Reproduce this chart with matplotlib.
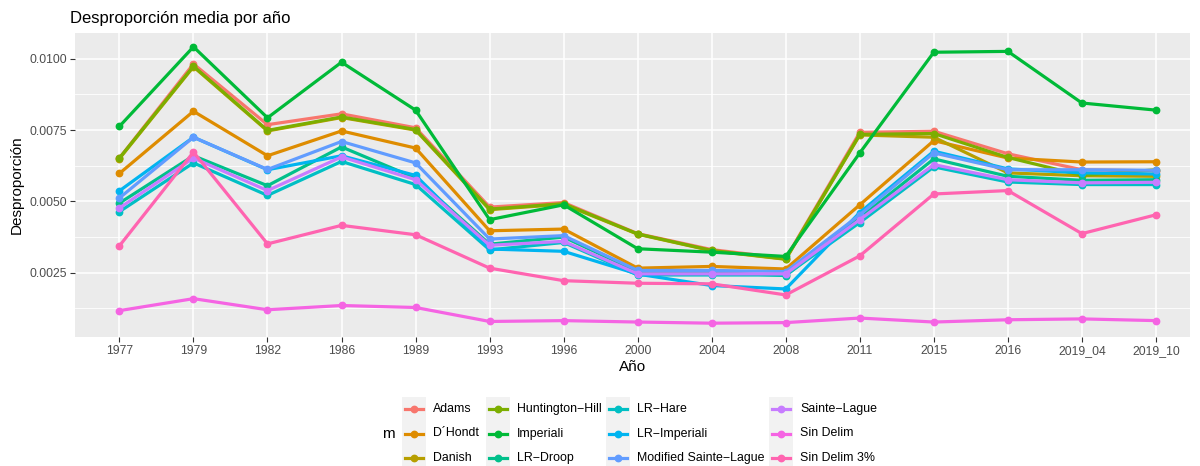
import matplotlib
matplotlib.use("Agg")
import matplotlib.pyplot as plt
from matplotlib.patches import Rectangle
from matplotlib.lines import Line2D
import numpy as np

years = ["1977", "1979", "1982", "1986", "1989", "1993", "1996", "2000", "2004",
         "2008", "2011", "2015", "2016", "2019_04", "2019_10"]

methods = ["Adams", "D\u00b4Hondt", "Danish", "Huntington\u2212Hill", "Imperiali",
           "LR\u2212Droop", "LR\u2212Hare", "LR\u2212Imperiali",
           "Modified Sainte\u2212Lague", "Sainte\u2212Lague", "Sin Delim", "Sin Delim 3%"]

colors = ["#F8766D", "#DE8C00", "#B79F00", "#7CAE00", "#00BA38", "#00C08B",
          "#00BFC4", "#00B4F0", "#619CFF", "#C77CFF", "#F564E3", "#FF64B0"]

adams = [0.00652, 0.00982, 0.00769, 0.00807, 0.00758, 0.00480, 0.00496, 0.00387,
         0.00331, 0.00300, 0.00742, 0.00746, 0.00667, 0.00611, 0.00607]
dhondt = [0.00598, 0.00816, 0.00660, 0.00747, 0.00687, 0.00397, 0.00403, 0.00266,
          0.00272, 0.00263, 0.00488, 0.00713, 0.00652, 0.00638, 0.00639]
danish = [0.00650, 0.00972, 0.00747, 0.00794, 0.00750, 0.00471, 0.00490, 0.00385,
          0.00327, 0.00297, 0.00733, 0.00725, 0.00600, 0.00590, 0.00588]
huntington = [0.00652, 0.00974, 0.00749, 0.00796, 0.00752, 0.00473, 0.00492, 0.00386,
              0.00328, 0.00298, 0.00735, 0.00738, 0.00654, 0.00591, 0.00611]
imperiali = [0.00763, 0.01042, 0.00793, 0.00988, 0.00820, 0.00436, 0.00488, 0.00334,
             0.00322, 0.00307, 0.00670, 0.01023, 0.01026, 0.00845, 0.00820]
lr_droop = [0.00494, 0.00660, 0.00555, 0.00691, 0.00582, 0.00350, 0.00375, 0.00254,
            0.00251, 0.00240, 0.00442, 0.00649, 0.00588, 0.00574, 0.00576]
lr_hare = [0.00464, 0.00635, 0.00521, 0.00640, 0.00559, 0.00330, 0.00356, 0.00242,
           0.00242, 0.00242, 0.00426, 0.00621, 0.00568, 0.00559, 0.00559]
lr_imperiali = [0.00537, 0.00725, 0.00611, 0.00660, 0.00591, 0.00333, 0.00325, 0.00245,
                0.00205, 0.00193, 0.00461, 0.00676, 0.00614, 0.00600, 0.00596]
mod_sainte_lague = [0.00512, 0.00725, 0.00612, 0.00710, 0.00635, 0.00368, 0.00380, 0.00258,
                    0.00258, 0.00254, 0.00453, 0.00670, 0.00611, 0.00611, 0.00609]
sainte_lague = [0.00477, 0.00652, 0.00538, 0.00656, 0.00576, 0.00346, 0.00360, 0.00246,
                0.00246, 0.00246, 0.00436, 0.00629, 0.00576, 0.00565, 0.00567]
sin_delim = [0.00117, 0.00159, 0.00120, 0.00135, 0.00128, 0.00079, 0.00082, 0.00077,
             0.00073, 0.00075, 0.00091, 0.00077, 0.00085, 0.00088, 0.00082]
sin_delim_3 = [0.00344, 0.00673, 0.00351, 0.00416, 0.00383, 0.00266, 0.00222, 0.00213,
               0.00211, 0.00172, 0.00309, 0.00526, 0.00538, 0.00387, 0.00453]

series = [adams, dhondt, danish, huntington, imperiali, lr_droop, lr_hare,
          lr_imperiali, mod_sainte_lague, sainte_lague, sin_delim, sin_delim_3]

yticks = [0.0025, 0.0050, 0.0075, 0.0100]
ytick_labels = ["0.0025", "0.0050", "0.0075", "0.0100"]

plt.rcParams['font.family'] = ['Liberation Sans', 'DejaVu Sans']

W, H = 1200, 466
fig = plt.figure(figsize=(W / 100, H / 100), dpi=100)

# panel in pixel coords
pl, pr, pt, pb = 75, 1190, 33, 337
ax = fig.add_axes([pl / W, 1 - pb / H, (pr - pl) / W, (pb - pt) / H])
ax.set_facecolor("#EBEBEB")
for s in ax.spines.values():
    s.set_visible(False)

x = np.arange(len(years))
allv = np.concatenate([np.array(s) for s in series])
lo, hi = allv.min(), allv.max()
pad = (hi - lo) * 0.05
ax.set_ylim(lo - pad, hi + pad)
ax.set_xlim(-0.6, len(years) - 1 + 0.46)

# grid
minor = [(yticks[i] + yticks[i + 1]) / 2 for i in range(len(yticks) - 1)]
minor = [yticks[0] - 0.00125] + minor
for m in minor:
    ax.axhline(m, color="white", lw=0.6, zorder=0)
for t in yticks:
    ax.axhline(t, color="white", lw=1.1, zorder=0)
for xi in x:
    ax.axvline(xi, color="white", lw=1.1, zorder=0)

for vals, c in zip(series, colors):
    ax.plot(x, vals, color=c, lw=2.3, marker="o", ms=4.6, zorder=2,
            solid_capstyle="butt")

ax.set_xticks(x)
ax.set_xticklabels(years)
ax.set_yticks(yticks)
ax.set_yticklabels(ytick_labels)
ax.tick_params(axis="both", colors="#333333", length=3.5, width=0.8,
               labelsize=8.8, labelcolor="#4D4D4D", pad=2.5)
ax.set_xlabel("A\u00f1o", fontsize=11, labelpad=2)
ax.set_ylabel("Desproporci\u00f3n", fontsize=11, labelpad=4)
fig.text(70 / W, 1 - 18 / H, "Desproporci\u00f3n media por a\u00f1o", fontsize=12,
         va="center", ha="left")

# legend (ggplot style)
col_x = [402, 486, 606, 769]
row_y = [409, 433.5, 458]
kw, kh = 24, 24.5
fig.text(382 / W, 1 - 433.5 / H, "m", fontsize=11, va="center", ha="left")
for i, (name, c) in enumerate(zip(methods, colors)):
    ci, ri = i // 3, i % 3
    cx, cy = col_x[ci], row_y[ri]
    fig.patches.append(Rectangle(((cx) / W, 1 - (cy + kh / 2) / H), kw / W, kh / H,
                                 transform=fig.transFigure, facecolor="#F2F2F2",
                                 edgecolor="none", zorder=0))
    fig.lines.append(Line2D([(cx + 3) / W, (cx + kw - 3) / W], [1 - cy / H, 1 - cy / H],
                            transform=fig.transFigure, color=c, lw=2.3))
    fig.lines.append(Line2D([(cx + kw / 2) / W], [1 - cy / H], transform=fig.transFigure,
                            color=c, marker="o", ms=4.6, lw=0))
    fig.text((cx + kw + 7) / W, 1 - cy / H, name, fontsize=8.9, va="center", ha="left")

fig.savefig("out.png", dpi=100)
